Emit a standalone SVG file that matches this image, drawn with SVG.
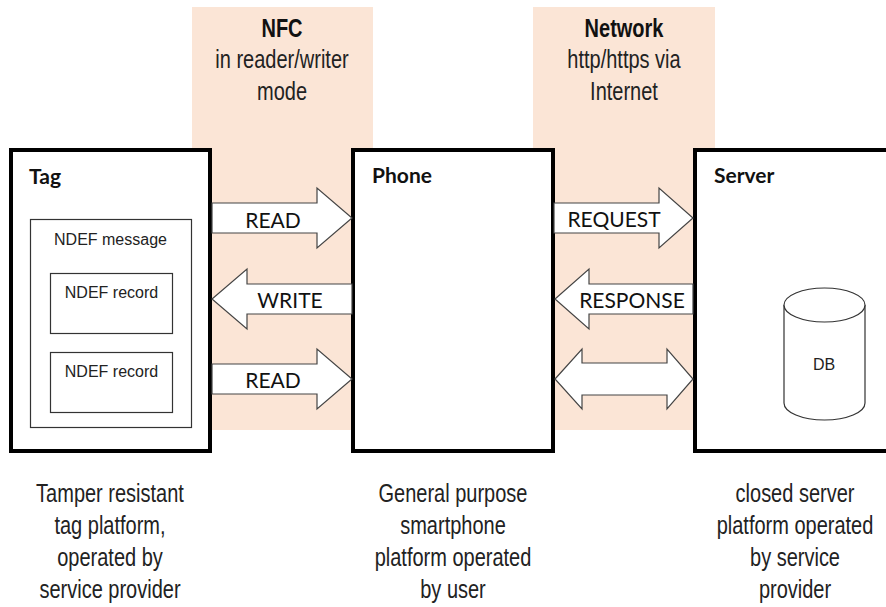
<svg xmlns="http://www.w3.org/2000/svg" width="886" height="607" viewBox="0 0 886 607">
<style>
.band{fill:#FBE5D6}
.box{fill:#fff;stroke:#000;stroke-width:4}
.thin{fill:#fff;stroke:#333;stroke-width:1.2}
.arr{fill:#fff;stroke:#444;stroke-width:1.2;stroke-linejoin:miter}
.nar{font-family:"Liberation Sans",Arial,sans-serif;font-size:25px;fill:#222;text-anchor:middle}
.narb{font-family:"Liberation Sans",Arial,sans-serif;font-size:25px;font-weight:bold;fill:#111;text-anchor:middle}
.lbl{font-family:Lato,"Open Sans",sans-serif;font-size:21px;fill:#111;text-anchor:middle}
.ttl{font-family:Lato,"Open Sans",sans-serif;font-size:21px;font-weight:bold;fill:#111}
.sm{font-family:"Liberation Sans",Arial,sans-serif;font-size:16px;fill:#222;text-anchor:middle}
</style>
<g id="bands">
<rect class="band" x="192" y="7" width="181" height="423"/>
<rect class="band" x="533" y="7" width="182" height="423"/>
</g>
<g id="nfc-label">
<g transform="translate(282,0) scale(0.8,1)">
<text class="narb" x="0" y="37">NFC</text>
<text class="nar" x="0" y="68">in reader/writer</text>
<text class="nar" x="0" y="100">mode</text>
</g>
</g>
<g id="network-label">
<g transform="translate(624,0) scale(0.8,1)">
<text class="narb" x="0" y="37">Network</text>
<text class="nar" x="0" y="68">http/https via</text>
<text class="nar" x="0" y="100">Internet</text>
</g>
</g>
<g id="tag">
<rect class="box" x="11" y="150" width="199" height="301"/>
<text class="ttl" x="29" y="184">Tag</text>
<rect class="thin" x="30.5" y="219.5" width="161" height="208"/>
<text class="sm" x="110.5" y="245">NDEF message</text>
<rect class="thin" x="50.5" y="273.5" width="122" height="60"/>
<text class="sm" x="111.5" y="298">NDEF record</text>
<rect class="thin" x="50.5" y="352.5" width="122" height="60"/>
<text class="sm" x="111.5" y="377">NDEF record</text>
</g>
<g id="phone">
<rect class="box" x="353" y="150" width="200" height="301"/>
<text class="ttl" x="372" y="183">Phone</text>
</g>
<g id="server">
<rect class="box" x="695" y="150" width="200" height="301"/>
<text class="ttl" x="714" y="183">Server</text>
<path class="thin" d="M784,305 L784,403 A40.5,17 0 0 0 865,403 L865,305"/>
<ellipse class="thin" cx="824.5" cy="305" rx="40.5" ry="17"/>
<text class="sm" x="824" y="370">DB</text>
</g>
<g id="connectors">
<path class="arr" d="M212,203 L317,203 L317,188 L352,218 L317,248 L317,233 L212,233 Z"/>
<text class="lbl" x="273" y="228">READ</text>
<path class="arr" d="M352,284 L247,284 L247,269 L212,299 L247,329 L247,314 L352,314 Z"/>
<text class="lbl" x="290" y="308">WRITE</text>
<path class="arr" d="M212,364 L317,364 L317,349 L352,379 L317,409 L317,394 L212,394 Z"/>
<text class="lbl" x="273" y="388">READ</text>
<path class="arr" d="M554,203 L659,203 L659,188 L693,218 L659,248 L659,233 L554,233 Z"/>
<text class="lbl" x="614" y="227">REQUEST</text>
<path class="arr" d="M693,284 L589,284 L589,269 L555,299 L589,329 L589,314 L693,314 Z"/>
<text class="lbl" x="632" y="308">RESPONSE</text>
<path class="arr" d="M555,379 L582,349 L582,363 L667,363 L667,349 L693,379 L667,409 L667,395 L582,395 L582,409 Z"/>
</g>
<g id="captions">
<g transform="translate(110,0) scale(0.8,1)">
<text class="nar" x="0" y="502">Tamper resistant</text>
<text class="nar" x="0" y="534">tag platform,</text>
<text class="nar" x="0" y="566">operated by</text>
<text class="nar" x="0" y="598">service provider</text>
</g>
<g transform="translate(453,0) scale(0.8,1)">
<text class="nar" x="0" y="502">General purpose</text>
<text class="nar" x="0" y="534">smartphone</text>
<text class="nar" x="0" y="566">platform operated</text>
<text class="nar" x="0" y="598">by user</text>
</g>
<g transform="translate(795,0) scale(0.8,1)">
<text class="nar" x="0" y="502">closed server</text>
<text class="nar" x="0" y="534">platform operated</text>
<text class="nar" x="0" y="566">by service</text>
<text class="nar" x="0" y="598">provider</text>
</g>
</g>
</svg>
